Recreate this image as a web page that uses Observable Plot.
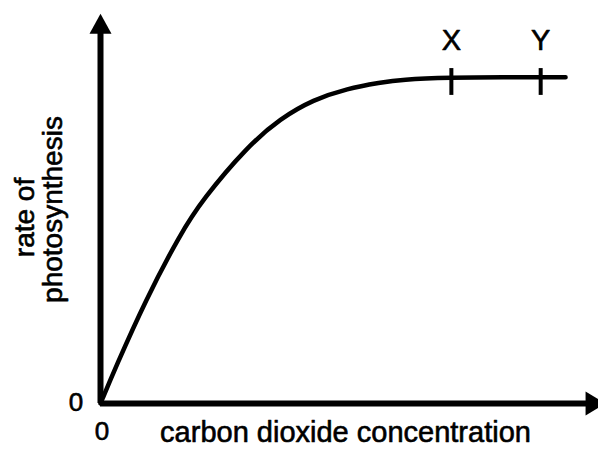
<!DOCTYPE html>
<html>
<head>
<meta charset="utf-8">
<script src="https://cdn.jsdelivr.net/npm/d3@7"></script>
<script src="https://cdn.jsdelivr.net/npm/@observablehq/plot@0.6"></script>
<style>
  html, body { margin: 0; padding: 0; background: #fff; overflow: hidden; }
</style>
</head>
<body>
<div id="chart"></div>
<script>
// carbon dioxide concentration (arbitrary units) and rate of photosynthesis (arbitrary units)
const co2 = [0, 0.31, 0.92, 1.64, 2.09, 3.01, 3.69, 4.36, 5.06, 5.74, 6.15, 7.19, 8.20, 9.53];
const rate = [0, 0.93, 2.65, 4.37, 5.24, 6.61, 7.33, 7.81, 8.10, 8.25, 8.33, 8.38, 8.39, 8.39];

// marked points on the plateau
const markerLabels = ["X", "Y"];
const markerCo2 = [7.19, 9.02];
const markerLow = [7.92, 7.92];
const markerHigh = [8.61, 8.61];

// tick labels
const xTickValues = [0];
const yTickValues = [0];

// axis extents (arrow tips)
const xAxisEnd = 10.35;
const yAxisEnd = 10.02;

const xTitle = "carbon dioxide concentration";
const yTitleLines = ["rate of", "photosynthesis"];

const curve = co2.map((c, i) => ({co2: c, rate: rate[i]}));
const markers = markerLabels.map((l, i) => ({label: l, co2: markerCo2[i], low: markerLow[i], high: markerHigh[i]}));

function arrowHead(w, h) {
  return {
    draw(context) {
      context.moveTo(0, 0);
      context.lineTo(w / 2, h);
      context.lineTo(-w / 2, h);
      context.closePath();
    }
  };
}

const font = "'Liberation Sans', Arial, Helvetica, sans-serif";
const textStyle = {fill: "black", stroke: "black", strokeWidth: 0.6};

const chart = Plot.plot({
  width: 598,
  height: 452,
  marginLeft: 100,
  marginRight: 10,
  marginTop: 14,
  marginBottom: 49,
  x: {domain: [0, 10], axis: null},
  y: {domain: [0, 10], axis: null},
  style: {background: "white", overflow: "hidden", fontFamily: font, color: "black"},
  marks: [
    // axes
    Plot.ruleY([0], {x1: 0, x2: 10, stroke: "black", strokeWidth: 6}),
    Plot.ruleX([0], {y1: 0, y2: 9.6, stroke: "black", strokeWidth: 6}),
    Plot.dot([{x: 0, y: yAxisEnd}], {x: "x", y: "y", symbol: arrowHead(22, 20), r: 10, fill: "black", stroke: "none"}),
    Plot.dot([{x: xAxisEnd, y: 0}], {x: "x", y: "y", symbol: arrowHead(24, 20), r: 10, rotate: 90, fill: "black", stroke: "none"}),
    // curve
    Plot.line(curve, {x: "co2", y: "rate", curve: "basis", stroke: "black", strokeWidth: 4.5}),
    // X / Y markers
    Plot.ruleX(markers, {x: "co2", y1: "low", y2: "high", stroke: "black", strokeWidth: 4}),
    Plot.text(markers, {x: "co2", y: "high", text: "label", dy: -28, fontSize: 29, ...textStyle}),
    // tick labels
    Plot.text(yTickValues, {x: 0, y: d => d, text: d => String(d), dx: -24.5, dy: -0.5, fontSize: 26, ...textStyle}),
    Plot.text(xTickValues, {x: d => d, y: 0, text: d => String(d), dx: 1.5, dy: 28, fontSize: 26, ...textStyle}),
    // axis titles
    Plot.text([xTitle], {frameAnchor: "bottom", textAnchor: "middle", text: d => d, dx: 1, dy: 38, fontSize: 29, ...textStyle}),
    Plot.text([yTitleLines[0]], {frameAnchor: "left", textAnchor: "middle", text: d => d, rotate: -90, dx: -75, dy: 8.5, fontSize: 28, ...textStyle}),
    Plot.text([yTitleLines[1]], {frameAnchor: "left", textAnchor: "middle", text: d => d, rotate: -90, dx: -47.5, dy: 0.5, fontSize: 28, ...textStyle})
  ]
});

document.getElementById("chart").appendChild(chart);
</script>
</body>
</html>
